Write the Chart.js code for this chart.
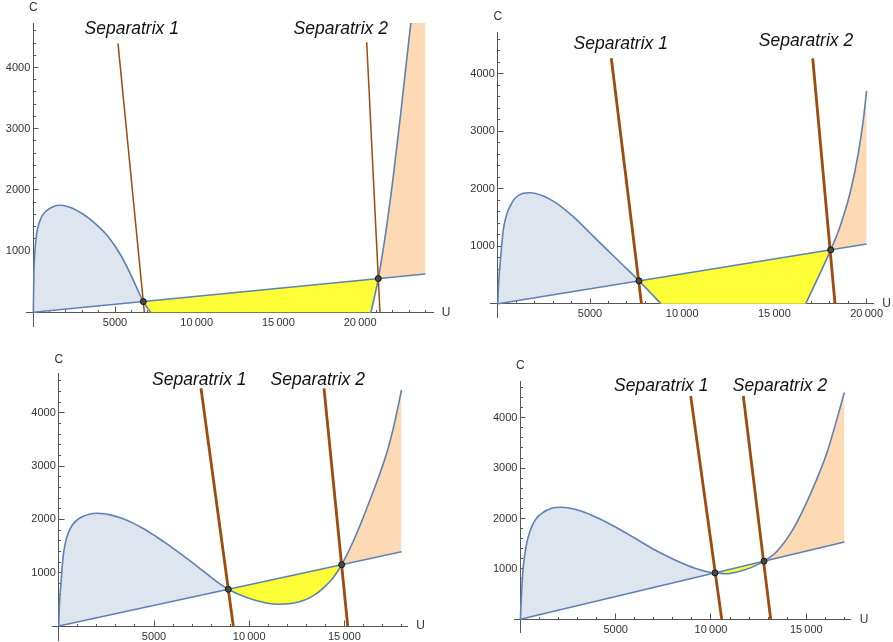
<!DOCTYPE html>
<html><head><meta charset="utf-8">
<script src="https://cdn.jsdelivr.net/npm/chart.js@4.4.1/dist/chart.umd.min.js"></script>
<style>
html,body{margin:0;padding:0;background:#fff;width:893px;height:642px;overflow:hidden;position:relative}
canvas{position:absolute}
</style></head><body>
<script>
// ---------------- DATA ----------------
// Nullcline curves [U, C]; null = curve below C=0 (not visible)
const panel1Curve = [[0,0],[40,650],[104,1018],[208,1291],[350,1450],[514,1562],[750,1645],[1022,1699],[1530,1748],[2142,1726],[2962,1618],[3776,1454],[4590,1235],[5410,908],[6022,582],[6530,283],[6732,175],[7185,0],[7190,null],[20664,0],[21114,551],[21622,1399],[22030,2216],[22440,3142],[22849,4122],[23113,4748]];
const panel2Curve = [[0,0],[40,330],[157,817],[298,1282],[420,1480],[569,1629],[750,1745],[933,1833],[1383,1920],[1746,1930],[2468,1873],[3194,1746],[4094,1513],[5000,1230],[5906,945],[6806,665],[7657,397],[8253,200],[8850,0],[8860,null],[16697,0],[17201,340],[18053,937],[18557,1339],[19100,1920],[19550,2615],[19821,3195],[20000,3700]];
const panel3Curve = [[0,0],[20,300],[63,560],[152,989],[236,1330],[330,1530],[415,1660],[560,1800],[761,1920],[1000,2000],[1287,2060],[1600,2098],[1990,2114],[2400,2105],[2700,2085],[3300,2020],[3900,1930],[4500,1815],[5100,1680],[5700,1535],[6300,1380],[6900,1220],[7500,1055],[8100,885],[8500,780],[8902,689],[9500,585],[10215,492],[10900,432],[11528,407],[12200,422],[12841,478],[13400,575],[13892,710],[14400,900],[14858,1151],[15467,1590],[16344,2364],[17219,3240],[17600,3760],[18000,4427]];
const panel4Curve = [[0,0],[68,581],[152,1044],[331,1508],[500,1740],[677,1905],[900,2030],[1118,2103],[1642,2202],[2167,2222],[2865,2182],[3914,2036],[4963,1837],[6013,1607],[7062,1375],[8112,1177],[9161,1012],[9859,940],[10210,921],[10800,905],[11696,975],[12221,1045],[12782,1153],[13448,1345],[14320,1800],[15196,2470],[16072,3294],[17000,4500]];

// Straight nullclines
const panel1Line = [[0,0],[24000,626]];
const panel2Line = [[0,0],[20000,1038]];
const panel3Line = [[0,0],[18000,1394]];
const panel4Line = [[0,0],[17000,1534]];

// Separatrices
const panel1Sep1 = [[5184,4395],[6795,0]];
const panel1Sep2 = [[20404,4412],[21216,0]];
const panel2Sep1 = [[6155,4268],[7790,0]];
const panel2Sep2 = [[17077,4268],[18286,0]];
const panel3Sep1 = [[7468,4460],[9165,0]];
const panel3Sep2 = [[13929,4460],[15173,0]];
const panel4Sep1 = [[8935,4430],[10562,0]];
const panel4Sep2 = [[11695,4430],[13132,0]];

// Intersection points
const panel1Cross = [[6732,175],[21114,551]];
const panel2Cross = [[7657,397],[18053,937]];
const panel3Cross = [[8902,689],[14858,1151]];
const panel4Cross = [[10210,921],[12782,1153]];

// Tick labels
const xTickValues12 = [5000,10000,15000,20000];
const xTickLabels12 = ['5000','10\u2009000','15\u2009000','20\u2009000'];
const xTickValues34 = [5000,10000,15000];
const xTickLabels34 = ['5000','10\u2009000','15\u2009000'];
const yTickValues = [1000,2000,3000,4000];
const yTickLabels = ['1000','2000','3000','4000'];
const separatrixNames = ['Separatrix 1','Separatrix 2'];
const axisNames = ['U','C'];

// ---------------- STYLE / LAYOUT ----------------
const FONT = "'Liberation Sans', Arial, Helvetica, sans-serif";
Chart.defaults.font.family = FONT;
const BLUE = '#5E81B5', FILL_BLUE = '#DFE5EF', YELLOW = '#FFFF37', PEACH = '#FDD9B4', BROWN = '#9E4B0E';
const AXIS = '#555', TICKTXT = '#333';
const PAD = 30;

const panels = [
  {curve: panel1Curve, line: panel1Line, sep1: panel1Sep1, sep2: panel1Sep2, cross: panel1Cross,
   xt: xTickValues12, xl: xTickLabels12, xMinorEnd: 24000, sepW: 1.5,
   L: {ox:33.3, oy:312.3, sx:81.7/5000, sy:61.2/1000, left:26, right:433, top:23, bottom:326},
   txt: {s1:[6022,4629], s2:[18813,4629], c:[0,4972], u:[25257,0]}},
  {curve: panel2Curve, line: panel2Line, sep1: panel2Sep1, sep2: panel2Sep2, cross: panel2Cross,
   xt: xTickValues12, xl: xTickLabels12, xMinorEnd: 20000, sepW: 2.8,
   L: {ox:497.8, oy:303.7, sx:92.2/5000, sy:57.5/1000, left:490, right:873, top:32, bottom:317},
   txt: {s1:[6665,4511], s2:[16714,4563], c:[0,4986], u:[21090,0]}},
  {curve: panel3Curve, line: panel3Line, sep1: panel3Sep1, sep2: panel3Sep2, cross: panel3Cross,
   xt: xTickValues34, xl: xTickLabels34, xMinorEnd: 18000, sepW: 2.8,
   L: {ox:58.8, oy:626, sx:95.2/5000, sy:53.3/1000, left:52, right:407, top:373, bottom:640},
   txt: {s1:[7379,4615], s2:[13598,4615], c:[0,5004], u:[19007,0]}},
  {curve: panel4Curve, line: panel4Line, sep1: panel4Sep1, sep2: panel4Sep2, cross: panel4Cross,
   xt: xTickValues34, xl: xTickLabels34, xMinorEnd: 17000, sepW: 2.8,
   L: {ox:520.4, oy:619.3, sx:95.3/5000, sy:50.4/1000, left:514, right:850, top:381, bottom:632},
   txt: {s1:[7392,4629], s2:[13620,4629], c:[0,5032], u:[18027,0]}}
];

const textPlugin = {
  id: 'texts',
  beforeDraw(chart) {
    const ys = chart.scales.y;
    const items = ys.getLabelItems(chart.chartArea);
    if (!items._shifted) { items.forEach(it => { it.options.translation[0] -= 3; }); items._shifted = true; }
  },
  afterDraw(chart, args, opts) {
    const {ctx} = chart; const xs = chart.scales.x, ys = chart.scales.y;
    ctx.save();
    for (const t of opts.items) {
      ctx.font = t.font; ctx.fillStyle = t.color;
      ctx.textAlign = 'center'; ctx.textBaseline = 'middle';
      ctx.fillText(t.text, xs.getPixelForValue(t.pos[0]), ys.getPixelForValue(t.pos[1]));
    }
    ctx.restore();
  }
};

const pts = arr => arr.map(p => ({x: p[0], y: p[1]}));

function makePanel(cfg) {
  const L = cfg.L;
  const cw = (L.right - L.left), ch = (L.bottom - L.top);
  const cv = document.createElement('canvas');
  cv.width = cw + 2*PAD; cv.height = ch + 2*PAD;
  cv.style.left = (L.left - PAD) + 'px'; cv.style.top = (L.top - PAD) + 'px';
  cv.style.width = cv.width + 'px'; cv.style.height = cv.height + 'px';
  document.body.appendChild(cv);
  const xmin = (L.left - L.ox) / L.sx, xmax = (L.right - L.ox) / L.sx;
  const ymax = (L.oy - L.top) / L.sy, ymin = (L.oy - L.bottom) / L.sy;

  const x1 = cfg.cross[0][0], x2 = cfg.cross[1][0];
  const seg = (a, b) => cfg.curve.filter(p => p[1] !== null && p[0] >= a && p[0] <= b).map(p => ({x: p[0], y: Math.max(0, p[1])}));
  const regC = seg(x2, Infinity);
  const lineEnd = cfg.line[cfg.line.length - 1][0];
  if (regC[regC.length - 1].x < lineEnd) regC.push({x: lineEnd, y: regC[regC.length - 1].y});

  const smooth = {cubicInterpolationMode: 'monotone'};
  const datasets = [
    {data: pts(cfg.cross), showLine: false, pointRadius: 3, pointBackgroundColor: '#4a4a4a', pointBorderColor: '#111', pointBorderWidth: 1, order: 1},
    {data: pts(cfg.line), borderColor: BLUE, borderWidth: 1.6, fill: false, order: 4},
    Object.assign({data: seg(0, x1), borderWidth: 0, borderColor: 'rgba(0,0,0,0)', backgroundColor: FILL_BLUE, fill: 1, order: 9}, smooth),
    Object.assign({data: seg(x1, x2), borderWidth: 0, borderColor: 'rgba(0,0,0,0)', backgroundColor: YELLOW, fill: 1, order: 9}, smooth),
    Object.assign({data: regC, borderWidth: 0, borderColor: 'rgba(0,0,0,0)', backgroundColor: PEACH, fill: 1, order: 9}, smooth),
    Object.assign({data: pts(cfg.curve), borderColor: BLUE, borderWidth: 1.6, fill: false, order: 3}, smooth),
    {data: pts(cfg.sep1), borderColor: BROWN, borderWidth: cfg.sepW, fill: false, order: 2},
    {data: pts(cfg.sep2), borderColor: BROWN, borderWidth: cfg.sepW, fill: false, order: 2}
  ];

  const xMinor = []; for (let v = 1000; v <= cfg.xMinorEnd; v += 1000) xMinor.push(v);
  const yMinor = []; for (let v = 200; v <= 4600; v += 200) yMinor.push(v);
  const xLab = {}; cfg.xt.forEach((v, i) => xLab[v] = cfg.xl[i]);
  const yLab = {}; yTickValues.forEach((v, i) => yLab[v] = yTickLabels[i]);

  const labFont = 'italic 17.5px ' + FONT;
  const majorGrid = {drawOnChartArea: false, drawTicks: true, tickLength: -5.5, tickColor: AXIS, tickWidth: 1};
  new Chart(cv, {
    type: 'line',
    data: {datasets},
    options: {
      responsive: false, animation: false, events: [],
      layout: {padding: PAD},
      elements: {point: {radius: 0}, line: {tension: 0}},
      plugins: {
        legend: {display: false}, tooltip: {enabled: false},
        texts: {items: [
          {text: separatrixNames[0], pos: cfg.txt.s1, font: labFont, color: '#111'},
          {text: separatrixNames[1], pos: cfg.txt.s2, font: labFont, color: '#111'},
          {text: axisNames[1], pos: cfg.txt.c, font: '12px ' + FONT, color: TICKTXT},
          {text: axisNames[0], pos: cfg.txt.u, font: '12px ' + FONT, color: TICKTXT}
        ]}
      },
      scales: {
        x: {
          type: 'linear', min: xmin, max: xmax, position: {y: 0},
          afterBuildTicks: s => { s.ticks = xMinor.map(v => ({value: v})); },
          ticks: {autoSkip: false, maxRotation: 0, minRotation: 0, padding: 7, color: TICKTXT, font: {size: 11},
                  callback: v => (xLab[v] !== undefined ? xLab[v] : '')},
          grid: {drawOnChartArea: false, drawTicks: true, tickLength: -3, tickColor: AXIS, tickWidth: 1},
          border: {display: true, color: AXIS, width: 1}
        },
        y: {
          type: 'linear', min: ymin, max: ymax, position: {x: 0},
          afterBuildTicks: s => { s.ticks = yMinor.map(v => ({value: v})); },
          ticks: {autoSkip: false, padding: 3, color: TICKTXT, font: {size: 11},
                  callback: v => (yLab[v] !== undefined ? yLab[v] : '')},
          grid: {drawOnChartArea: false, drawTicks: true, tickLength: -3, tickColor: AXIS, tickWidth: 1},
          border: {display: true, color: AXIS, width: 1}
        },
        xMajor: {
          type: 'linear', axis: 'x', min: xmin, max: xmax, position: {y: 0},
          afterBuildTicks: s => { s.ticks = cfg.xt.map(v => ({value: v})); },
          ticks: {display: false, autoSkip: false, maxRotation: 0, minRotation: 0},
          grid: majorGrid, border: {display: false}
        },
        yMajor: {
          type: 'linear', axis: 'y', min: ymin, max: ymax, position: {x: 0},
          afterBuildTicks: s => { s.ticks = yTickValues.map(v => ({value: v})); },
          ticks: {display: false, autoSkip: false},
          grid: majorGrid, border: {display: false}
        }
      }
    },
    plugins: [textPlugin]
  });
}

panels.forEach(makePanel);
</script>
</body></html>
